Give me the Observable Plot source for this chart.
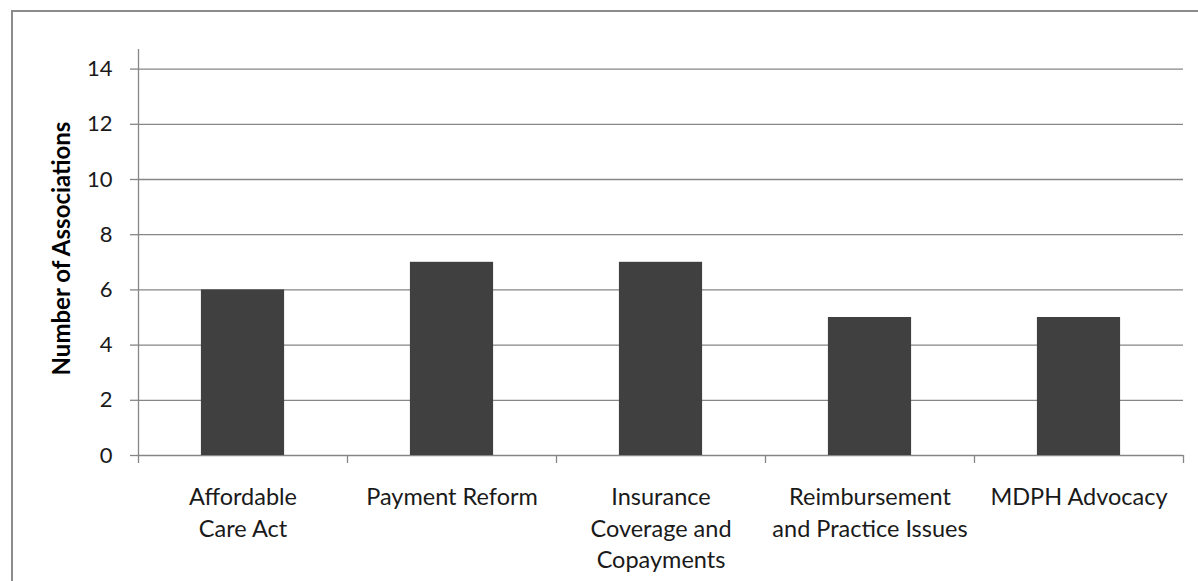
<!DOCTYPE html>
<html>
<head>
<meta charset="utf-8">
<script src="https://cdn.jsdelivr.net/npm/d3@7"></script>
<script src="https://cdn.jsdelivr.net/npm/@observablehq/plot@0.6"></script>
<style>
  html, body { margin: 0; padding: 0; background: #fff; overflow: hidden; }
  #frame { position: absolute; left: 11px; top: 10px; width: 1300px; height: 700px; border: 2px solid #8c8c8c; box-sizing: border-box; }
  #chart { position: absolute; left: 0; top: 0; }
</style>
</head>
<body>
<div id="frame"></div>
<div id="chart"></div>
<script>
const categories = ["Affordable\nCare Act", "Payment Reform", "Insurance\nCoverage and\nCopayments", "Reimbursement\nand Practice Issues", "MDPH Advocacy"];
const values = [6, 7, 7, 5, 5];
const yTicks = [0, 2, 4, 6, 8, 10, 12, 14];
const yLabel = "Number of Associations";

const data = categories.map((c, i) => ({c, i, v: values[i]}));
const boundaries = d3.range(categories.length + 1);

const font = "Lato, 'Open Sans', sans-serif";

const chart = Plot.plot({
  width: 1198,
  height: 581,
  marginLeft: 138,
  marginRight: 15,
  marginTop: 41,
  marginBottom: 126,
  style: {fontFamily: font, fontSize: "22px", background: "transparent", overflow: "visible"},
  x: {domain: [0, categories.length], axis: null},
  y: {domain: [0, 15], axis: null},
  marks: [
    Plot.ruleY(yTicks, {stroke: "#868686", strokeWidth: 1.3}),
    Plot.rectY(data, {x1: d => d.i + 0.301, x2: d => d.i + 0.699, y: "v", fill: "#404040"}),
    Plot.ruleX([0], {y1: 0, y2: 15, stroke: "#868686", strokeWidth: 1.3, insetBottom: -8}),
    Plot.axisX({ticks: boundaries, tickSize: 8, tickFormat: () => "", stroke: "#868686", strokeWidth: 1.3}),
    Plot.axisY({ticks: yTicks, tickSize: 8, tickFormat: () => "", stroke: "#868686", strokeWidth: 1.3, label: null}),
    Plot.text(yTicks, {x: 0, y: d => d, text: d => String(d), dx: -26, textAnchor: "end", fontSize: 22, fill: "#1a1a1a"}),
    Plot.text(data, {x: d => d.i + 0.5, y: 0, text: "c", dy: 27, lineAnchor: "top", lineHeight: 1.35, fontSize: 23.5, fill: "#1a1a1a"}),
    Plot.text([yLabel], {frameAnchor: "left", textAnchor: "middle", text: d => d, rotate: -90, dx: -76, fontSize: 24, fontWeight: "bold", fill: "#000"})
  ]
});
document.getElementById("chart").appendChild(chart);
</script>
</body>
</html>
